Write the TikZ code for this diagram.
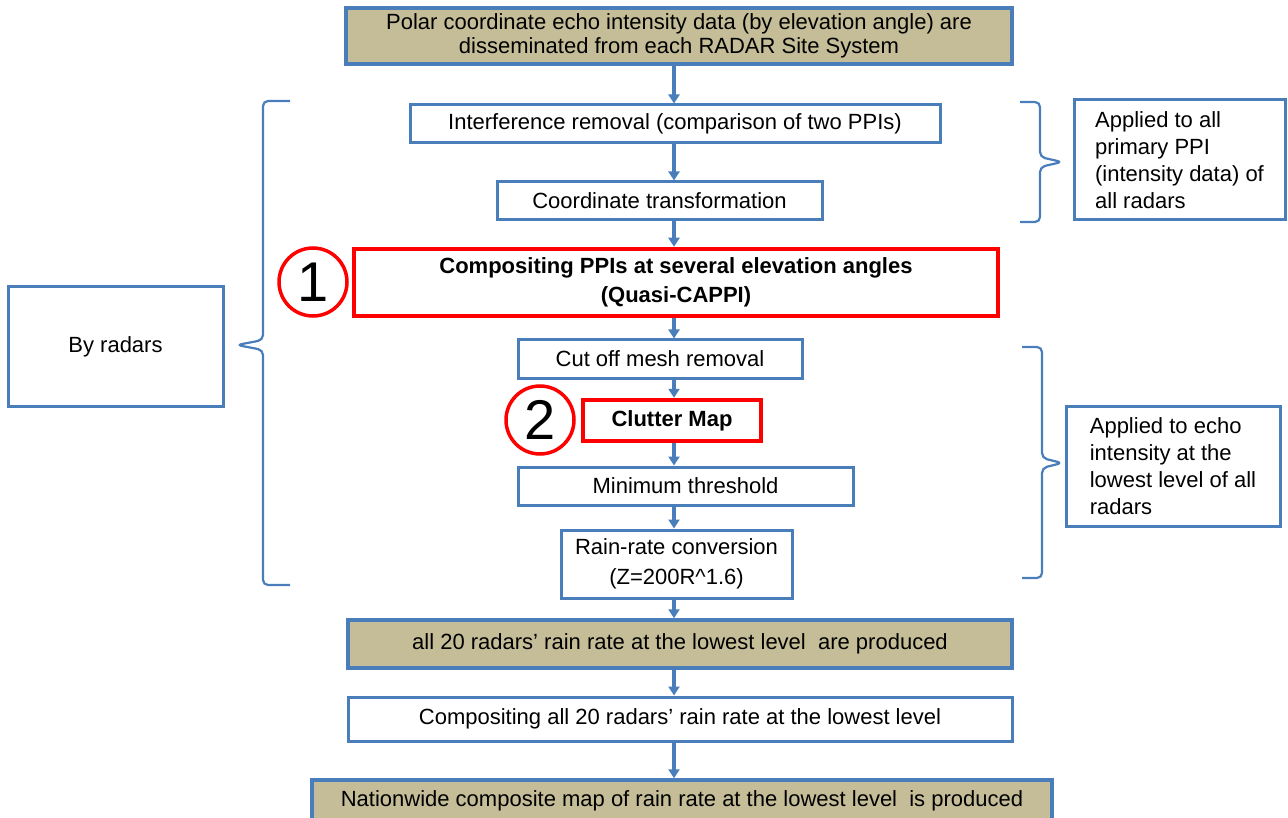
\documentclass[tikz,border=0pt]{standalone}
\usepackage{fontspec}
\setmainfont{Liberation Sans}
\usetikzlibrary{arrows.meta}
\definecolor{boxblue}{HTML}{4A7EBB}
\definecolor{khaki}{HTML}{C4BD97}
\definecolor{hotred}{HTML}{FF0000}

\begin{document}
\begin{tikzpicture}[x=1pt, y=-1pt,
  proc/.style={draw=boxblue, line width=3pt, fill=white, inner sep=0pt,
    align=center, font=\fontsize{22}{24}\selectfont},
  datab/.style={proc, fill=khaki, line width=3.5pt},
  hilite/.style={proc, draw=hotred, line width=4.5pt, font=\fontsize{22}{29}\selectfont\bfseries},
  note/.style={proc, align=left, font=\fontsize{22}{27}\selectfont},
  num/.style={circle, draw=hotred, line width=3.5pt, fill=white, inner sep=0pt,
    minimum size=68pt, font=\fontsize{56}{56}\selectfont},
  flow/.style={draw=boxblue, line width=3.5pt, -{Triangle[length=9pt, width=11pt]}},
  brc/.style={draw=boxblue, line width=2.2pt, rounded corners=5pt}]
  \useasboundingbox (0,0) rectangle (1288,818);

  % main column
  \node[datab, minimum width=666, minimum height=56] (src) at (679,36)
    {Polar coordinate echo intensity data (by elevation angle) are\\disseminated from each RADAR Site System};
  \node[proc, minimum width=530, minimum height=38] (intf) at (675,124) {Interference removal (comparison of two PPIs)};
  \node[proc, minimum width=325, minimum height=38] (coord) at (659.5,201) {Coordinate transformation};
  \node[hilite, minimum width=644, minimum height=67] (qcappi) at (676,282.5)
    {Compositing PPIs at several elevation angles\\(Quasi-CAPPI)};
  \node[proc, minimum width=284, minimum height=38] (mesh) at (660,359) {Cut off mesh removal};
  \node[hilite, minimum width=178, minimum height=41] (clutter) at (672,420.5) {Clutter Map};
  \node[proc, minimum width=335, minimum height=38] (minth) at (685.5,486) {Minimum threshold};
  \node[proc, minimum width=231, minimum height=68, font=\fontsize{22}{30}\selectfont] (rain) at (676.5,564)
    {Rain-rate conversion\\(Z=200R\textasciicircum1.6)};
  \node[datab, minimum width=664, minimum height=48] (all20) at (680,644)
    {all 20 radars’ rain rate at the lowest level \ are produced};
  \node[proc, minimum width=664, minimum height=44] (compall) at (680,719)
    {Compositing all 20 radars’ rain rate at the lowest level};
  \node[datab, minimum width=740, minimum height=42] (nation) at (682,801)
    {Nationwide composite map of rain rate at the lowest level \ is produced};

  % numbered marks
  \node[num] (one) at (313,282) {1};
  \node[num] (two) at (540,420) {2};

  % side notes
  \node[proc, minimum width=215, minimum height=119] (byradar) at (115.5,346.5) {By radars};
  \node[note, minimum width=211, minimum height=120] (allppi) at (1179.5,160)
    {Applied to all\\primary PPI\\(intensity data) of\\all radars};
  \node[note, minimum width=214, minimum height=120] (lowest) at (1173,466)
    {Applied to echo\\intensity at the\\lowest level of all\\radars};

  \coordinate (col) at (674,0);
  \draw[flow] (src.south -| col) -- (intf.north -| col);
  \draw[flow] (intf.south -| col) -- (coord.north -| col);
  \draw[flow] (coord.south -| col) -- (qcappi.north -| col);
  \draw[flow] (qcappi.south -| col) -- (mesh.north -| col);
  \draw[flow] (mesh.south -| col) -- (clutter.north -| col);
  \draw[flow] (clutter.south -| col) -- (minth.north -| col);
  \draw[flow] (minth.south -| col) -- (rain.north -| col);
  \draw[flow] (rain.south -| col) -- (all20.north -| col);
  \draw[flow] (all20.south -| col) -- (compall.north -| col);
  \draw[flow] (compall.south -| col) -- (nation.north -| col);

  % braces
  \draw[brc] (290,101) -- (263,101) -- (263,340) -- (237,345) -- (263,350) -- (263,585) -- (290,585);
  \draw[brc] (1020,102) -- (1040,102) -- (1040,157) -- (1062,162) -- (1040,167) -- (1040,222) -- (1020,222);
  \draw[brc] (1022,347) -- (1042,347) -- (1042,458) -- (1062,463) -- (1042,468) -- (1042,578) -- (1022,578);

\end{tikzpicture}
\end{document}
